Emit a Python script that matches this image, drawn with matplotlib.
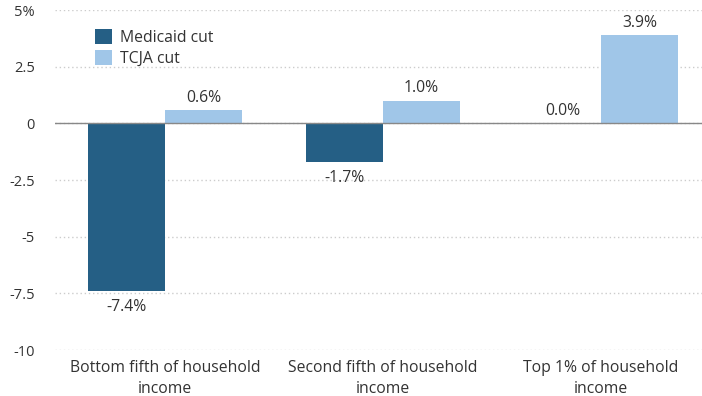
import matplotlib
matplotlib.use("Agg")
import matplotlib.pyplot as plt
import numpy as np

categories = ["Bottom fifth of household\nincome", "Second fifth of household\nincome", "Top 1% of household\nincome"]
medicaid = [-7.4, -1.7, 0.0]
tcja = [0.6, 1.0, 3.9]
series_names = ["Medicaid cut", "TCJA cut"]
yticks = [5, 2.5, 0, -2.5, -5, -7.5, -10]
yticklabels = ["5%", "2.5", "0", "-2.5", "-5", "-7.5", "-10"]

c_med = "#255f85"
c_tcja = "#a0c6e8"
txt = "#333333"

plt.rcParams['font.family'] = ['Open Sans', 'DejaVu Sans']

fig = plt.figure(figsize=(7.02, 3.96), dpi=100)
ax = fig.add_axes([55/702, 46/396, 655/702, 340/396])

x = np.arange(len(categories))
w = 0.353
b1 = ax.bar(x - w/2, medicaid, w, color=c_med, label=series_names[0], zorder=3)
b2 = ax.bar(x + w/2, tcja, w, color=c_tcja, label=series_names[1], zorder=3)

fs = 11.3
for rect, v in zip(b1, medicaid):
    xc = rect.get_x() + rect.get_width()/2
    if v < 0:
        ax.annotate(f"{v:.1f}%", (xc, v), xytext=(0, -6), textcoords="offset points",
                    ha="center", va="top", fontsize=fs, color=txt)
    else:
        ax.annotate(f"{v:.1f}%", (xc, v), xytext=(0, 3), textcoords="offset points",
                    ha="center", va="bottom", fontsize=fs, color=txt)
for rect, v in zip(b2, tcja):
    xc = rect.get_x() + rect.get_width()/2
    ax.annotate(f"{v:.1f}%", (xc, v), xytext=(0, 3), textcoords="offset points",
                ha="center", va="bottom", fontsize=fs, color=txt)

ax.set_ylim(-10, 5)
ax.set_xlim(-0.505, 2.5)
ax.set_yticks(yticks)
ax.set_yticklabels(yticklabels)
ax.set_xticks(x)
ax.set_xticklabels(categories, linespacing=1.4)
ax.tick_params(axis="y", length=0, pad=14.4, labelsize=10.5, labelcolor=txt)
ax.tick_params(axis="x", length=0, pad=7.5, labelsize=fs, labelcolor=txt)
ax.grid(axis="y", linestyle=(0, (1, 2)), color="#cccccc", linewidth=1, zorder=0)
ax.axhline(0, color="#888888", linewidth=1, zorder=4)
for s in ax.spines.values():
    s.set_visible(False)

ax.legend(loc="upper left", bbox_to_anchor=(40/655, 0.943), frameon=False, fontsize=fs,
          handlelength=1.1, handleheight=1.1, handletextpad=0.5, labelspacing=0.25,
          labelcolor=txt, borderaxespad=0, borderpad=0)

fig.savefig("out.png", dpi=100)
